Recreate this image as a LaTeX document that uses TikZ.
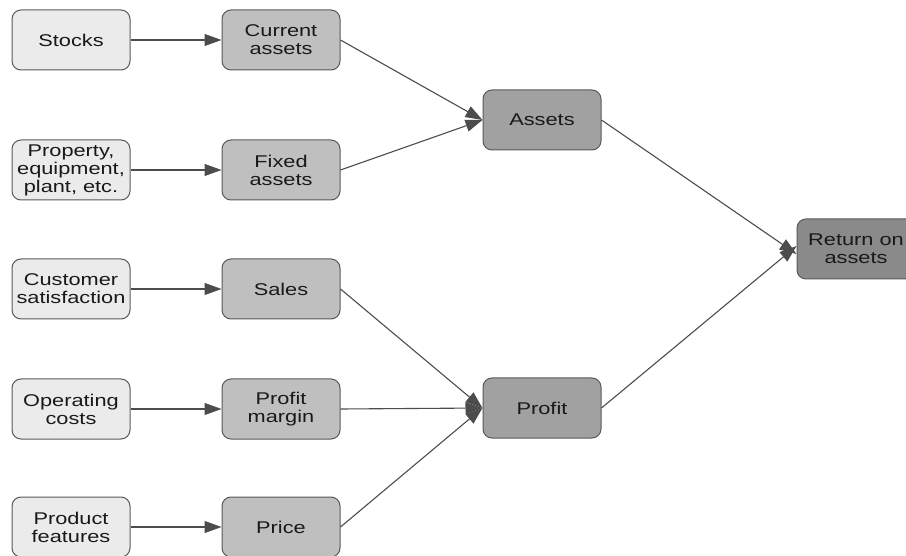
\documentclass[tikz,border=0pt]{standalone}
\usepackage{fontspec}
\setmainfont{Liberation Sans}[FakeStretch=1.28]
\usetikzlibrary{arrows.meta}
\begin{document}
\begin{tikzpicture}[x=1pt,y=-1pt,>={Triangle[length=17pt,width=12pt]},
  box/.style={draw=black!65,line width=1pt,rounded corners=9pt,minimum width=118pt,
    minimum height=60pt,inner sep=0pt,align=center,text=black!90,
    font=\fontsize{17}{18}\selectfont},
  driver/.style={box,fill=black!8},
  part/.style={box,fill=black!25},
  total/.style={box,fill=black!37},
  ratio/.style={box,fill=black!46},
  link/.style={draw=black!70,line width=1.1pt,->}]
  \useasboundingbox (0,0) rectangle (906,556);
  % inputs
  \node[driver] (stocks) at (71,40) {Stocks};
  \node[driver] (property) at (71,170) {Property,\\equipment,\\plant, etc.};
  \node[driver] (custsat) at (71,289) {Customer\\satisfaction};
  \node[driver] (opcosts) at (71,409) {Operating\\costs};
  \node[driver] (features) at (71,527) {Product\\features};
  % second level
  \node[part] (current) at (281,40) {Current\\assets};
  \node[part] (fixed) at (281,170) {Fixed\\assets};
  \node[part] (sales) at (281,289) {Sales};
  \node[part] (margin) at (281,409) {Profit\\margin};
  \node[part] (price) at (281,527) {Price};
  % totals
  \node[total] (assets) at (542,120) {Assets};
  \node[total] (profit) at (542,408) {Profit};
  \node[ratio] (roa) at (856,249) {Return on\\assets};
  % links
  \draw[link] (stocks) -- (current);
  \draw[link] (property) -- (fixed);
  \draw[link] (custsat) -- (sales);
  \draw[link] (opcosts) -- (margin);
  \draw[link] (features) -- (price);
  \draw[link] (current.east) -- (assets.west);
  \draw[link] (fixed.east) -- (assets.west);
  \draw[link] (sales.east) -- (profit.west);
  \draw[link] (margin.east) -- (profit.west);
  \draw[link] (price.east) -- (profit.west);
  \draw[link] (assets.east) -- ([yshift=-5pt]roa.west);
  \draw[link] (profit.east) -- ([yshift=3pt]roa.west);
\end{tikzpicture}
\end{document}
